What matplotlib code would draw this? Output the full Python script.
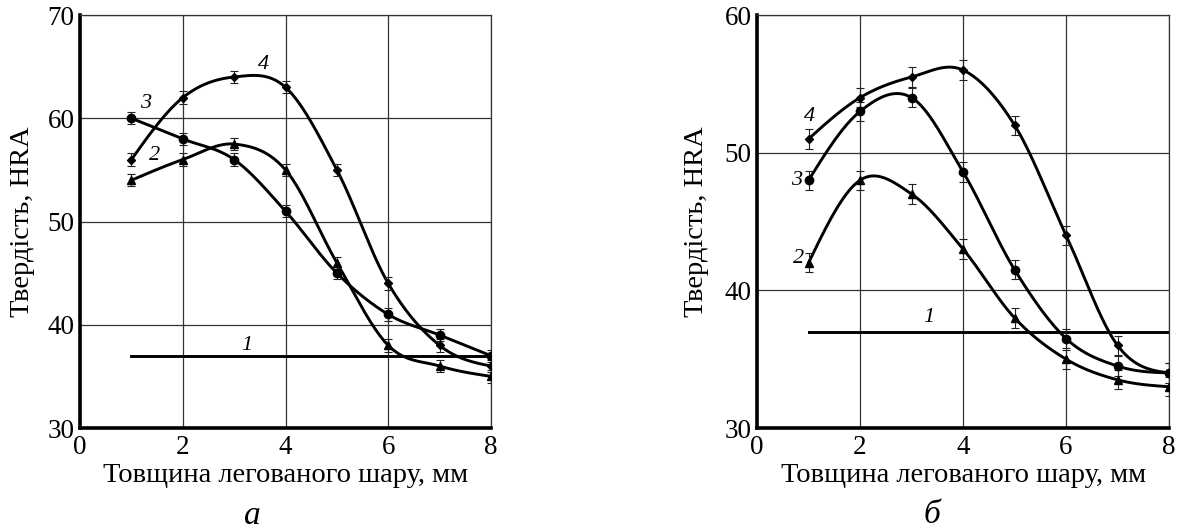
"""Hardness vs. thickness of the alloyed layer, two panels."""
import numpy as np
import matplotlib
matplotlib.use('Agg')
import matplotlib.pyplot as plt

plt.rcParams['font.family'] = ['Liberation Serif', 'DejaVu Serif']

THICKNESS = [1, 2, 3, 4, 5, 6, 7, 8]

# panel a
A_CURVE2 = [54, 56, 57.5, 55, 46, 38, 36, 35]
A_CURVE3 = [60, 58, 56, 51, 45, 41, 39, 37]
A_CURVE4 = [56, 62, 64, 63, 55, 44, 38, 36]
A_LEVEL1 = 37
A_ERR = 0.6

# panel b
B_CURVE2 = [42, 48, 47, 43, 38, 35, 33.5, 33]
B_CURVE3 = [48, 53, 54, 48.6, 41.5, 36.5, 34.5, 34]
B_CURVE4 = [51, 54, 55.5, 56, 52, 44, 36, 34]
B_LEVEL1 = 37
B_ERR = 0.7

XLABEL = 'Товщина легованого шару, мм'
YLABEL = 'Твердість, HRA'


def smooth_curve(x, y, per_seg=60):
    """Catmull-Rom style Hermite curve through the points."""
    x = np.asarray(x, float)
    y = np.asarray(y, float)
    n = len(x)
    m = np.zeros(n)
    m[1:-1] = (y[2:] - y[:-2]) / (x[2:] - x[:-2])
    # parabolic end conditions
    m[0] = (3 * (y[1] - y[0]) / (x[1] - x[0]) - m[1]) / 2
    m[-1] = (3 * (y[-1] - y[-2]) / (x[-1] - x[-2]) - m[-2]) / 2
    xs, ys = [], []
    for i in range(n - 1):
        h = x[i + 1] - x[i]
        t = np.linspace(0, 1, per_seg, endpoint=(i == n - 2))
        h00 = 2 * t**3 - 3 * t**2 + 1
        h10 = t**3 - 2 * t**2 + t
        h01 = -2 * t**3 + 3 * t**2
        h11 = t**3 - t**2
        xs.append(x[i] + t * h)
        ys.append(h00 * y[i] + h10 * h * m[i] + h01 * y[i + 1] + h11 * h * m[i + 1])
    return np.concatenate(xs), np.concatenate(ys)


def draw_panel(ax, curves, level, err, ylim, labels, ylabel_x):
    ax.set_xlim(0, 8)
    ax.set_ylim(*ylim)
    ax.set_xticks([0, 2, 4, 6, 8])
    ax.set_yticks(np.arange(ylim[0], ylim[1] + 1, 10))
    ax.grid(True, color='#333333', linewidth=0.9)
    ax.tick_params(length=0, labelsize=19.5)
    ax.tick_params(axis='y', pad=4)
    ax.tick_params(axis='x', pad=5)
    for side in ('left', 'bottom'):
        ax.spines[side].set_linewidth(2.6)
    for side in ('top', 'right'):
        ax.spines[side].set_linewidth(0.9)
        ax.spines[side].set_color('#333333')

    for values, marker, ms in curves:
        xs, ys = smooth_curve(THICKNESS, values)
        ax.plot(xs, ys, color='black', linewidth=2.1, zorder=3)
        ax.errorbar(THICKNESS, values, yerr=err, fmt=marker, color='black',
                    markersize=ms, elinewidth=0.8, capsize=2.8, capthick=0.8,
                    ecolor='#222222', zorder=4)
    ax.plot([THICKNESS[0], THICKNESS[-1]], [level, level], color='black',
            linewidth=2.1, zorder=3)

    for text, x, y in labels:
        ax.text(x, y, text, fontsize=16, style='italic', ha='center',
                va='center', zorder=5)

    ax.set_xlabel(XLABEL, fontsize=20.5)
    ax.xaxis.set_label_coords(0.5, -0.116)
    ax.xaxis.label.set_va('center')
    ax.set_ylabel(YLABEL, fontsize=20.5)
    ax.yaxis.set_label_coords(ylabel_x, 0.5)
    ax.yaxis.label.set_va('center')


fig = plt.figure(figsize=(11.84, 5.29), dpi=100)
ax_a = fig.add_axes([0.0676, 0.1909, 0.3471, 0.7807])
ax_b = fig.add_axes([0.6394, 0.1909, 0.3480, 0.7807])

draw_panel(ax_a,
           [(A_CURVE2, '^', 6), (A_CURVE3, 'o', 6), (A_CURVE4, 'D', 4.5)],
           A_LEVEL1, A_ERR, (30, 70),
           [('1', 3.25, 38.0), ('2', 1.45, 56.4), ('3', 1.27, 61.4),
            ('4', 3.57, 65.2)],
           -0.139)
draw_panel(ax_b,
           [(B_CURVE2, '^', 6), (B_CURVE3, 'o', 6), (B_CURVE4, 'D', 4.5)],
           B_LEVEL1, B_ERR, (30, 60),
           [('1', 3.33, 38.0), ('2', 0.8, 42.3), ('3', 0.76, 48.0),
            ('4', 1.02, 52.6)],
           -0.148)

fig.text(252 / 1184, 1 - 516 / 529, 'а', fontsize=24, style='italic',
         ha='center', va='center')
fig.text(932 / 1184, 1 - 515 / 529, 'б', fontsize=24, style='italic',
         ha='center', va='center')

fig.savefig('out.png', dpi=100)
